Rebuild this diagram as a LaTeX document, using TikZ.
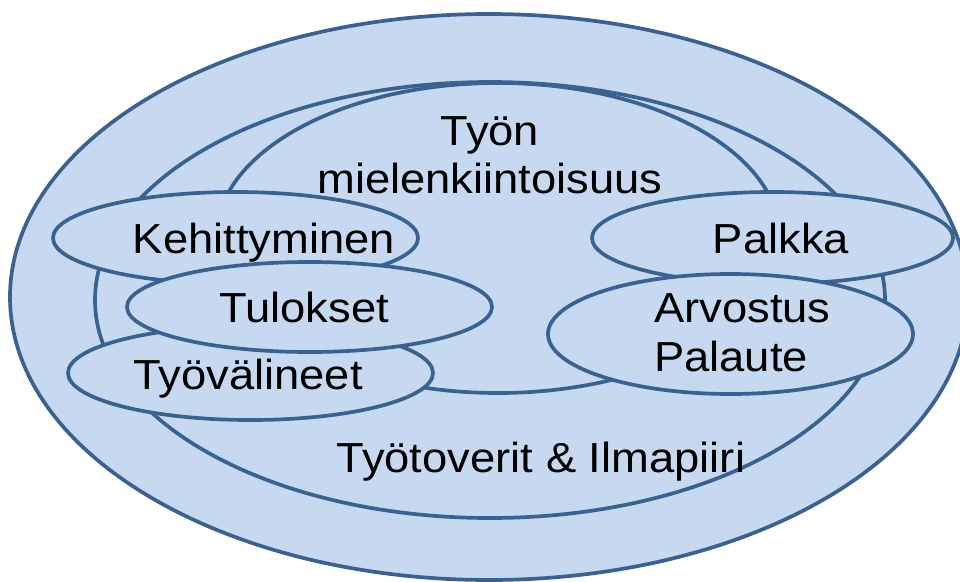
\documentclass[tikz,border=0pt]{standalone}
\usepackage{fontspec}
\setmainfont{Liberation Sans}[FakeStretch=1.08]
\usetikzlibrary{shapes.geometric}
\definecolor{ringfill}{HTML}{C6D9F1}
\definecolor{ringline}{HTML}{3A6190}
\begin{document}
\begin{tikzpicture}[x=1pt,y=-1pt,
  ring/.style={ellipse, draw=ringline, fill=ringfill, line width=3.7pt,
    inner sep=0pt, outer sep=0pt},
  lbl/.style={inner sep=0pt, anchor=base, text=black,
    font=\fontsize{42pt}{48pt}\selectfont}]
\useasboundingbox (0,0) rectangle (960,581);

% nested areas
\node[ring, minimum width=958pt, minimum height=566pt] (outer) at (489,297) {};
\node[ring, minimum width=790pt, minimum height=436pt] (ilmapiiri) at (490,300) {};
\node[ring, minimum width=564pt, minimum height=310pt] (tyon) at (498,238) {};

% factor ellipses
\node[ring, minimum width=365pt, minimum height=92pt] (kehitys) at (235.5,238) {};
\node[ring, minimum width=361pt, minimum height=92pt] (palkka) at (772.5,238) {};
\node[ring, minimum width=365pt, minimum height=94pt] (valineet) at (250.5,373) {};
\node[ring, minimum width=365pt, minimum height=90pt] (tulokset) at (309.5,307) {};
\node[ring, minimum width=365pt, minimum height=120pt] (arvostus) at (730.5,334) {};

% labels
\node[lbl] (tyonA) at (490,145) {Työn};
\node[lbl] (tyonB) at (490,193) {mielenkiintoisuus};
\node[lbl] (kehT) at (264,253) {Kehittyminen};
\node[lbl] (palkT) at (781,253) {Palkka};
\node[lbl] (tulT) at (304,322) {Tulokset};
\node[lbl] (valT) at (248,389) {Työvälineet};
\node[lbl, anchor=base west] (arvT) at (654,322) {Arvostus};
\node[lbl, anchor=base west] (palT) at (654,371) {Palaute};
\node[lbl] (ilmT) at (541,472) {Työtoverit \& Ilmapiiri};
\end{tikzpicture}
\end{document}
